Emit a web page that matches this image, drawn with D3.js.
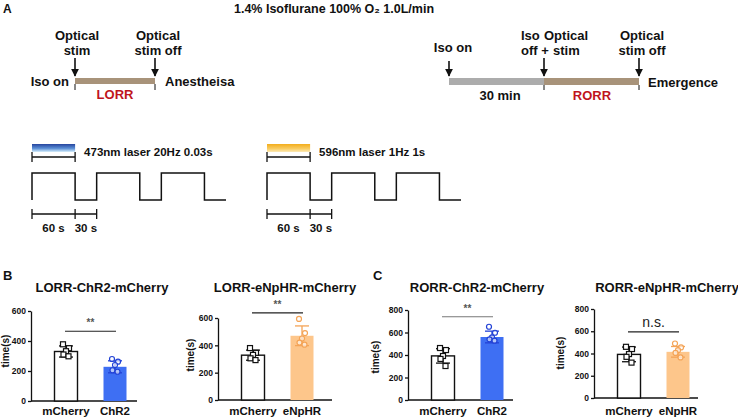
<!DOCTYPE html>
<html><head><meta charset="utf-8">
<script src="https://cdn.jsdelivr.net/npm/d3@7"></script>
<style>body{margin:0;background:#fff}svg{display:block}text{font-family:"Liberation Sans",Arial,sans-serif}</style>
</head><body>
<script>
// ---------- data ----------
const headerText = "1.4% Isoflurane 100% O\u2082  1.0L/min";
const pulseDurations = [60, 30, 60, 30, 60, 30];   // seconds: on, off, ...
const pulseLevels = [1, 0, 1, 0, 1, 0];
const scaleBarTicks = [0, 60, 90];
const scaleBarLabels = ["60 s", "30 s"];
const laserLabels = ["473nm laser 20Hz 0.03s", "596nm laser 1Hz 1s"];

const panelTitles = ["LORR-ChR2-mCherry", "LORR-eNpHR-mCherry", "RORR-ChR2-mCherry", "RORR-eNpHR-mCherry"];
const ctrlLabel = "mCherry";
const optoLabels = ["ChR2", "eNpHR", "ChR2", "eNpHR"];
const ctrlMeans = [330, 328, 392, 392];
const ctrlSD = [37, 37, 64, 66];
const optoMeans = [228, 470, 560, 415];
const optoSD = [40, 72, 52, 48];
const ctrlPoints = [
  [378, 352, 332, 310, 298],
  [380, 345, 330, 305, 292],
  [462, 444, 391, 365, 302],
  [460, 440, 395, 370, 318]
];
const optoPoints = [
  [280, 262, 240, 205, 195],
  [593, 490, 450, 420, 405],
  [651, 598, 557, 539, 527],
  [490, 455, 430, 405, 365]
];
const yMaxes = [600, 600, 800, 800];
const yTickVals = [[0, 200, 400, 600], [0, 200, 400, 600], [0, 200, 400, 600, 800], [0, 200, 400, 600, 800]];
const sigLevels = [465, 637, 740, 595];
const sigTexts = ["**", "**", "**", "n.s."];
const yLabel = "time(s)";

// ---------- drawing ----------
const W = 738, H = 420;
const svg = d3.select("body").append("svg").attr("width", W).attr("height", H);
const defs = svg.append("defs");
const ink = "#111";

function bold(sel, size) { return sel.attr("font-weight", "bold").attr("font-size", size).attr("fill", ink); }

// Panel letters
bold(svg.append("text").attr("x", 3).attr("y", 13).text("A"), 12);
bold(svg.append("text").attr("x", 3).attr("y", 280).text("B"), 13);
bold(svg.append("text").attr("x", 373).attr("y", 280).text("C"), 13);

// header
bold(svg.append("text").attr("x", 334).attr("y", 13).attr("text-anchor", "middle").text(headerText), 12.5);

// arrow marker
defs.append("marker").attr("id", "arr").attr("viewBox", "0 0 10 10").attr("refX", 9).attr("refY", 5)
  .attr("markerWidth", 5).attr("markerHeight", 5).attr("orient", "auto")
  .append("path").attr("d", "M0,0 L10,5 L0,10 z").attr("fill", ink);

function arrow(x, y1, y2) {
  svg.append("line").attr("x1", x).attr("x2", x).attr("y1", y1).attr("y2", y2)
    .attr("stroke", ink).attr("stroke-width", 1.6).attr("marker-end", "url(#arr)");
}
function label(x, y, t, anchor, size, color, weight) {
  return svg.append("text").attr("x", x).attr("y", y).attr("text-anchor", anchor || "middle")
    .attr("font-size", size || 13).attr("font-weight", weight || "bold").attr("fill", color || ink).text(t);
}
const tan = "#a8937a", grey = "#acacac", red = "#c0141c";

// Left timeline (anesthesia)
label(77, 40, "Optical"); label(77, 55, "stim");
label(158, 40, "Optical"); label(158, 55, "stim off");
arrow(75, 58, 76); arrow(155, 58, 76);
svg.append("rect").attr("x", 75).attr("y", 78).attr("width", 80).attr("height", 6).attr("fill", tan);
[75, 155].forEach(x => svg.append("line").attr("x1", x).attr("x2", x).attr("y1", 84).attr("y2", 90).attr("stroke", ink).attr("stroke-width", 1));
label(69, 86, "Iso on", "end");
label(165, 86, "Anestheisa", "start");
label(115, 99, "LORR", "middle", 13, red);

// Right timeline (emergence)
label(453, 52, "Iso on");
label(521, 40, "Iso", "start"); label(544, 40, "Optical", "start");
label(521, 55, "off +", "start"); label(553, 55, "stim", "start");
label(642, 40, "Optical"); label(642, 55, "stim off");
arrow(449, 61, 76); arrow(544, 58, 76); arrow(639, 58, 76);
svg.append("rect").attr("x", 449).attr("y", 78).attr("width", 95).attr("height", 7).attr("fill", grey);
svg.append("rect").attr("x", 544).attr("y", 78).attr("width", 95).attr("height", 7).attr("fill", tan);
[544, 639].forEach(x => svg.append("line").attr("x1", x).attr("x2", x).attr("y1", 85).attr("y2", 90).attr("stroke", ink).attr("stroke-width", 1));
label(648, 87, "Emergence", "start");
label(500, 100, "30 min");
label(592, 100, "RORR", "middle", 13, red);

// Gradients
const gBlue = defs.append("linearGradient").attr("id", "gBlue").attr("x1", 0).attr("x2", 0).attr("y1", 0).attr("y2", 1);
gBlue.append("stop").attr("offset", "0%").attr("stop-color", "#26459e");
gBlue.append("stop").attr("offset", "55%").attr("stop-color", "#5b8fd6");
gBlue.append("stop").attr("offset", "100%").attr("stop-color", "#d8f0fb");
const gYel = defs.append("linearGradient").attr("id", "gYel").attr("x1", 0).attr("x2", 0).attr("y1", 0).attr("y2", 1);
gYel.append("stop").attr("offset", "0%").attr("stop-color", "#f3ad1c");
gYel.append("stop").attr("offset", "60%").attr("stop-color", "#f9cd63");
gYel.append("stop").attr("offset", "100%").attr("stop-color", "#fdebb8");

function pulseBlock(x0, grad, text) {
  const total = d3.sum(pulseDurations);
  const xs = d3.scaleLinear().domain([0, total]).range([x0, x0 + 194]);
  const ys = d3.scaleLinear().domain([0, 1]).range([200, 173]);
  svg.append("rect").attr("x", xs(0)).attr("y", 144).attr("width", xs(pulseDurations[0]) - xs(0)).attr("height", 8).attr("fill", `url(#${grad})`);
  const g = svg.append("g").attr("stroke", ink).attr("stroke-width", 1.3);
  g.append("line").attr("x1", xs(0)).attr("x2", xs(pulseDurations[0])).attr("y1", 157).attr("y2", 157);
  [0, pulseDurations[0]].forEach(t => g.append("line").attr("x1", xs(t)).attr("x2", xs(t)).attr("y1", 152).attr("y2", 162));
  label(xs(pulseDurations[0]) + 9, 156, text, "start", 11.5);
  let t = 0; const pts = [[xs(0), ys(0)]];
  pulseDurations.forEach((d, i) => {
    pts.push([xs(t), ys(pulseLevels[i])]);
    t += d;
    pts.push([xs(t), ys(pulseLevels[i])]);
  });
  svg.append("path").attr("d", d3.line()(pts)).attr("fill", "none").attr("stroke", ink).attr("stroke-width", 1.5);
  const sb = svg.append("g").attr("stroke", ink).attr("stroke-width", 1.3);
  sb.append("line").attr("x1", xs(scaleBarTicks[0])).attr("x2", xs(scaleBarTicks[2])).attr("y1", 214).attr("y2", 214);
  scaleBarTicks.forEach(v => sb.append("line").attr("x1", xs(v)).attr("x2", xs(v)).attr("y1", 209).attr("y2", 219));
  label((xs(scaleBarTicks[0]) + xs(scaleBarTicks[1])) / 2, 232, scaleBarLabels[0], "middle", 11.5);
  label((xs(scaleBarTicks[1]) + xs(scaleBarTicks[2])) / 2, 232, scaleBarLabels[1], "middle", 11.5);
}
pulseBlock(32, "gBlue", laserLabels[0]);
pulseBlock(267, "gYel", laserLabels[1]);

// Bar panels
const axisXs = [31, 218, 408, 594];
const yBottoms = [401, 400, 400, 398];
const yTops = [311, 318, 310, 309];
const xEnds = [137, 332, 513, 698];
const titleXs = [102, 285, 477, 667];
const ylabXs = [9, 194, 379, 564];
const ylabYs = [351, 355, 357, 353];
const optoFill = ["#3e6ff3", "#fdc68b", "#3e6ff3", "#fdc68b"];
const optoStroke = ["#2242d6", "#f4a457", "#2242d6", "#f4a457"];
const sigColors = ["#222", "#222", "#777", "#222"];
const jitter = [-3, 3, 0, -2.5, 2.5];

panelTitles.forEach((title, p) => {
  const ax = axisXs[p];
  const y = d3.scaleLinear().domain([0, yMaxes[p]]).range([yBottoms[p], yTops[p]]);
  const x = d3.scalePoint().domain([ctrlLabel, optoLabels[p]]).range([ax + 35, ax + 84]);
  const g = svg.append("g");
  label(titleXs[p], 292, title, "middle", 13);
  const yAx = g.append("g").attr("transform", `translate(${ax},0)`)
    .call(d3.axisLeft(y).tickValues(yTickVals[p]).tickSize(3).tickSizeOuter(0).tickPadding(2));
  yAx.selectAll("path,line").attr("stroke", ink).attr("stroke-width", 1.3);
  yAx.selectAll("text").attr("font-size", 8.5).attr("font-weight", "bold").attr("fill", ink).attr("font-family", "Liberation Sans, Arial, sans-serif");
  g.append("text").attr("transform", `translate(${ylabXs[p]},${ylabYs[p]}) rotate(-90)`)
    .attr("text-anchor", "middle").attr("font-size", 10).attr("font-weight", "bold").attr("fill", ink).text(yLabel);
  g.append("line").attr("x1", ax).attr("x2", xEnds[p]).attr("y1", yBottoms[p]).attr("y2", yBottoms[p])
    .attr("stroke", ink).attr("stroke-width", 1.3);
  const bw = 23;
  const groups = [
    { name: ctrlLabel, mean: ctrlMeans[p], sd: ctrlSD[p], pts: ctrlPoints[p], fill: "#fff", stroke: ink, shape: "sq" },
    { name: optoLabels[p], mean: optoMeans[p], sd: optoSD[p], pts: optoPoints[p], fill: optoFill[p], stroke: optoStroke[p], shape: "ci" }
  ];
  groups.forEach(gr => {
    const cx = x(gr.name);
    if (gr.shape === "sq") {
      g.append("rect").attr("x", cx - bw / 2).attr("y", y(gr.mean)).attr("width", bw).attr("height", y(0) - y(gr.mean))
        .attr("fill", "#fff").attr("stroke", ink).attr("stroke-width", 1.4);
    } else {
      g.append("rect").attr("x", cx - bw / 2).attr("y", y(gr.mean)).attr("width", bw).attr("height", y(0) - y(gr.mean))
        .attr("fill", gr.fill);
    }
    const e = g.append("g").attr("stroke", gr.stroke).attr("stroke-width", 1.3);
    e.append("line").attr("x1", cx).attr("x2", cx).attr("y1", y(gr.mean - gr.sd)).attr("y2", y(gr.mean + gr.sd));
    [gr.mean - gr.sd, gr.mean + gr.sd].forEach(v => e.append("line").attr("x1", cx - 7).attr("x2", cx + 7).attr("y1", y(v)).attr("y2", y(v)));
    gr.pts.forEach((v, i) => {
      const px = cx + jitter[i];
      if (gr.shape === "sq") {
        g.append("rect").attr("x", px - 2.5).attr("y", y(v) - 2.5).attr("width", 5).attr("height", 5)
          .attr("fill", "#fff").attr("stroke", ink).attr("stroke-width", 1.2);
      } else {
        g.append("circle").attr("cx", px).attr("cy", y(v)).attr("r", 2.5)
          .attr("fill", "#fff").attr("fill-opacity", 0.6).attr("stroke", gr.stroke).attr("stroke-width", 1.2);
      }
    });
    label(cx, 415, gr.name, "middle", 11.5);
  });
  const ys = y(sigLevels[p]);
  g.append("line").attr("x1", x(ctrlLabel) - 1).attr("x2", x(optoLabels[p]) + 1).attr("y1", ys).attr("y2", ys)
    .attr("stroke", sigColors[p]).attr("stroke-width", 1.2);
  if (sigTexts[p] === "n.s.") {
    label((x(ctrlLabel) + x(optoLabels[p])) / 2, ys - 5, sigTexts[p], "middle", 14, "#222", "normal");
  } else {
    label((x(ctrlLabel) + x(optoLabels[p])) / 2, ys - 5, sigTexts[p], "middle", 10, "#555", "bold");
  }
});
</script>
</body></html>
